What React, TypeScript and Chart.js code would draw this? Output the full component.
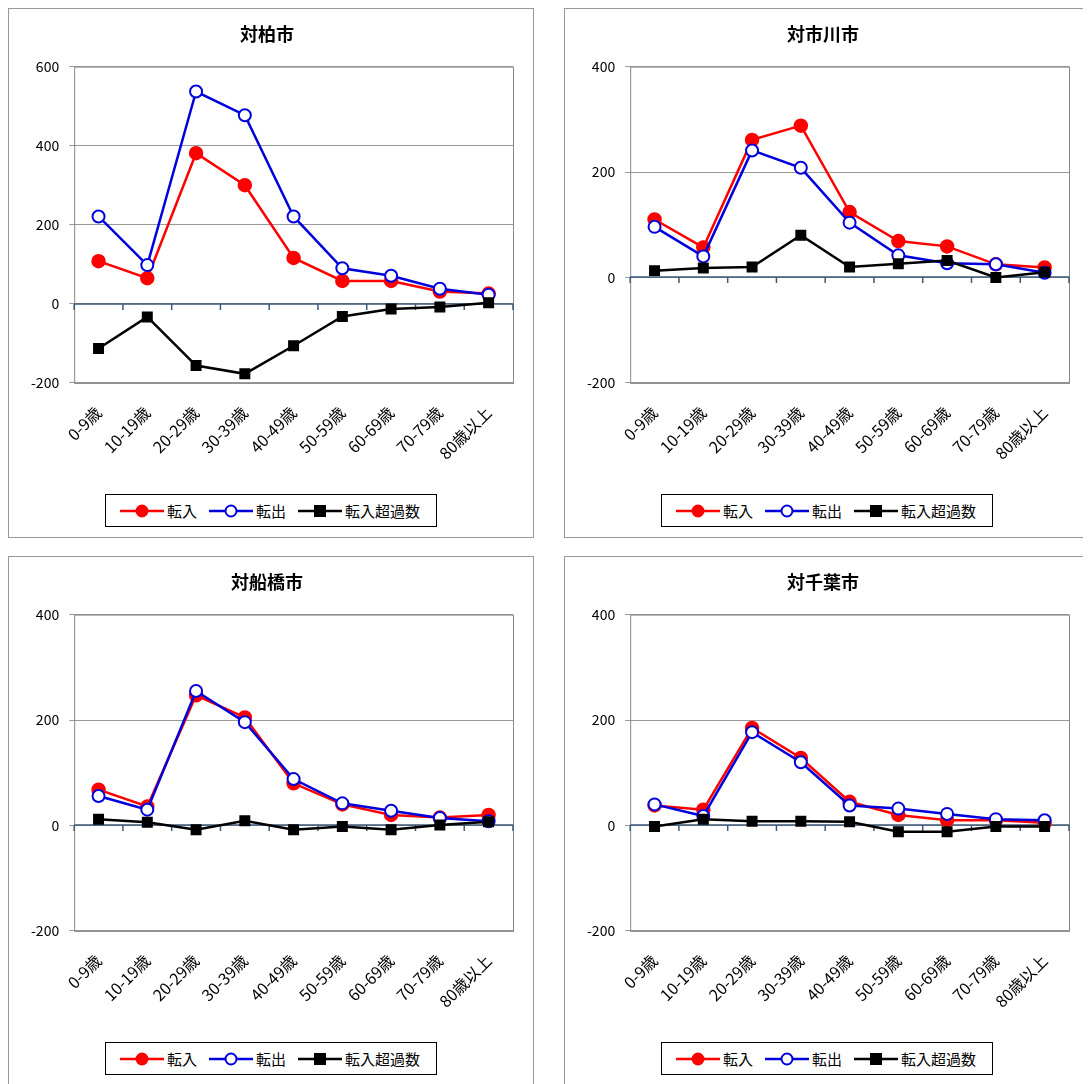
import React, { useEffect, useRef } from "react";
import { Chart, registerables } from "chart.js";
Chart.register(...registerables);

const categories = ["0-9歳", "10-19歳", "20-29歳", "30-39歳", "40-49歳", "50-59歳", "60-69歳", "70-79歳", "80歳以上"];
const seriesNames = ["転入", "転出", "転入超過数"];

const kashiwaIn = [108, 65, 381, 300, 116, 58, 58, 31, 26];
const kashiwaOut = [221, 98, 537, 477, 221, 90, 71, 38, 23];
const kashiwaNet = [-113, -33, -156, -177, -106, -32, -13, -8, 3];

const ichikawaIn = [110, 57, 261, 288, 124, 69, 59, 25, 19];
const ichikawaOut = [96, 40, 241, 208, 104, 42, 27, 25, 9];
const ichikawaNet = [13, 18, 20, 80, 20, 26, 32, 0, 10];

const funabashiIn = [68, 36, 247, 205, 80, 40, 20, 15, 20];
const funabashiOut = [56, 30, 255, 196, 88, 42, 28, 14, 8];
const funabashiNet = [12, 6, -8, 9, -8, -2, -8, 1, 7];

const chibaIn = [38, 30, 185, 128, 45, 20, 10, 10, 5];
const chibaOut = [40, 18, 177, 120, 38, 32, 22, 12, 10];
const chibaNet = [-2, 12, 8, 8, 7, -12, -12, -2, -2];

const FONT = "'Noto Sans CJK JP', 'Noto Sans', sans-serif";

const boxPlugin = {
  id: "box",
  beforeDatasetsDraw(chart: any) {
    const { ctx, chartArea: a, scales } = chart;
    ctx.save();
    ctx.strokeStyle = "#888";
    ctx.lineWidth = 1;
    ctx.strokeRect(a.left + 0.5, a.top + 0.5, a.right - a.left, a.bottom - a.top);
    const y0 = Math.round(scales.y.getPixelForValue(0));
    ctx.strokeStyle = "#3b5a7a";
    ctx.lineWidth = 2;
    ctx.beginPath();
    ctx.moveTo(a.left, y0);
    ctx.lineTo(a.right, y0);
    const n = categories.length;
    const w = (a.right - a.left) / n;
    ctx.lineWidth = 1.5;
    for (let i = 0; i <= n; i++) {
      const x = a.left + i * w;
      ctx.moveTo(x, y0);
      ctx.lineTo(x, y0 + 6);
    }
    ctx.stroke();
    ctx.restore();
  },
};

function Panel({ title, inn, out, net, max, min, step }: any) {
  const ref = useRef<HTMLCanvasElement>(null);
  useEffect(() => {
    const chart = new Chart(ref.current!, {
      type: "line",
      data: {
        labels: categories,
        datasets: [
          { label: seriesNames[0], data: inn, borderColor: "#ff0000", backgroundColor: "#ff0000", pointBackgroundColor: "#ff0000", pointBorderColor: "#ff0000", pointRadius: 6, borderWidth: 2.5, order: 2 },
          { label: seriesNames[1], data: out, borderColor: "#0000dd", backgroundColor: "#fff", pointBackgroundColor: "#fff", pointBorderColor: "#0000dd", pointBorderWidth: 2, pointRadius: 6, borderWidth: 2.5, order: 1 },
          { label: seriesNames[2], data: net, borderColor: "#000", backgroundColor: "#000", pointStyle: "rect", pointRadius: 6, borderWidth: 2.5, order: 0 },
        ],
      },
      options: {
        animation: false,
        responsive: false,
        layout: { padding: { left: 12, right: 22, top: 0, bottom: 4 } },
        plugins: {
          legend: { display: false },
          tooltip: { enabled: false },
          title: { display: true, text: title, color: "#000", font: { family: FONT, size: 18, weight: "bold" }, padding: { top: 14, bottom: 22 } },
        },
        scales: {
          x: {
            offset: true,
            grid: { display: false },
            border: { display: false },
            ticks: { color: "#000", font: { family: FONT, size: 16 }, maxRotation: 45, minRotation: 45, autoSkip: false, padding: 12 },
          },
          y: {
            min, max,
            ticks: { stepSize: step, color: "#000", font: { family: FONT, size: 14 }, padding: 10 },
            grid: { color: "#999", drawTicks: true, tickLength: 5 },
            border: { display: false },
          },
        },
      },
      plugins: [boxPlugin],
    });
    return () => chart.destroy();
  }, []);
  const item = (color: string, fill: string, shape: string, label: string) => (
    <span style={{ display: "inline-flex", alignItems: "center", marginRight: 12 }}>
      <svg width="44" height="14">
        <line x1="0" y1="7" x2="44" y2="7" stroke={color} strokeWidth="2.5" />
        {shape === "c" ? <circle cx="22" cy="7" r="5.5" fill={fill} stroke={color} strokeWidth="2" /> : <rect x="16" y="1" width="12" height="12" fill={color} />}
      </svg>
      <span style={{ marginLeft: 3 }}>{label}</span>
    </span>
  );
  return (
    <div style={{ position: "relative", width: 526, height: 530, border: "1px solid #999", background: "#fff", boxSizing: "border-box" }}>
      <canvas ref={ref} width={526} height={470} />
      <div style={{ position: "absolute", top: 485, left: 0, width: "100%", display: "flex", justifyContent: "center" }}>
        <div style={{ border: "1px solid #000", padding: "5px 4px 5px 14px", fontFamily: FONT, fontSize: 15, display: "flex" }}>
          {item("#ff0000", "#ff0000", "c", seriesNames[0])}
          {item("#0000dd", "#fff", "c", seriesNames[1])}
          {item("#000", "#000", "r", seriesNames[2])}
        </div>
      </div>
    </div>
  );
}

export default function App() {
  return (
    <div style={{ display: "grid", gridTemplateColumns: "526px 526px", columnGap: 30, rowGap: 18, marginTop: 0 }}>
      <Panel title="対柏市" inn={kashiwaIn} out={kashiwaOut} net={kashiwaNet} max={600} min={-200} step={200} />
      <Panel title="対市川市" inn={ichikawaIn} out={ichikawaOut} net={ichikawaNet} max={400} min={-200} step={200} />
      <Panel title="対船橋市" inn={funabashiIn} out={funabashiOut} net={funabashiNet} max={400} min={-200} step={200} />
      <Panel title="対千葉市" inn={chibaIn} out={chibaOut} net={chibaNet} max={400} min={-200} step={200} />
    </div>
  );
}
